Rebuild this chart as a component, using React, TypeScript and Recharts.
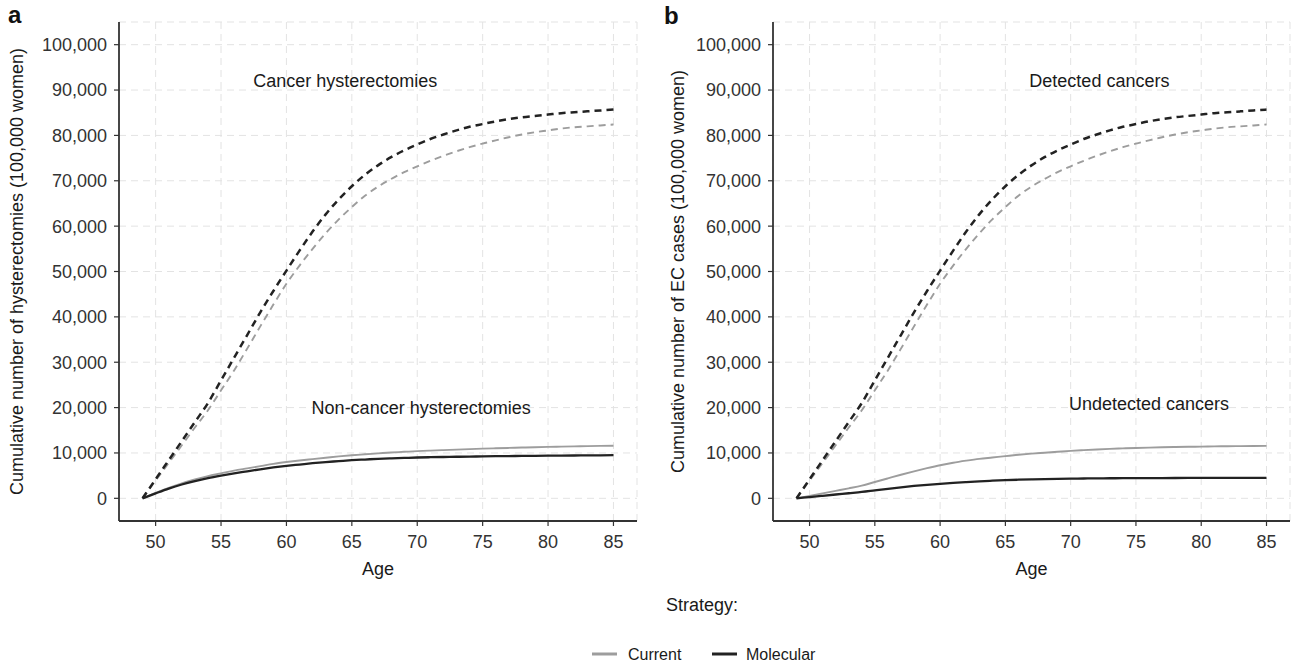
import React from 'react';
import { LineChart, Line, XAxis, YAxis, CartesianGrid, ReferenceDot, Label } from 'recharts';

// ---------- data ----------
const ages = [49, 50, 51, 52, 53, 54, 55, 56, 57, 58, 59, 60, 61, 62, 63, 64, 65, 66, 67, 68, 69, 70, 71, 72, 73, 74, 75, 76, 77, 78, 79, 80, 81, 82, 83, 84, 85];

// Panel a: cumulative hysterectomies
const hystCancerCurrent = [0, 3900, 7800, 11700, 15600, 19400, 23800, 28200, 33000, 37900, 42700, 47300, 51300, 55000, 58400, 61500, 64200, 66700, 68700, 70400, 71900, 73200, 74400, 75500, 76500, 77400, 78200, 78900, 79600, 80200, 80700, 81100, 81500, 81800, 82000, 82200, 82400];
const hystCancerMolecular = [0, 4200, 8400, 12600, 16800, 21000, 26000, 31000, 36000, 41000, 45700, 50200, 54600, 58800, 62600, 65900, 68800, 71300, 73400, 75200, 76700, 78000, 79200, 80200, 81100, 81900, 82500, 83100, 83600, 84000, 84300, 84600, 84900, 85100, 85300, 85500, 85700];
const hystNonCancerCurrent = [0, 1200, 2300, 3300, 4150, 4900, 5500, 6100, 6600, 7100, 7600, 8000, 8350, 8650, 8950, 9250, 9500, 9700, 9900, 10100, 10250, 10400, 10520, 10630, 10740, 10850, 10950, 11030, 11110, 11190, 11260, 11330, 11390, 11450, 11500, 11550, 11600];
const hystNonCancerMolecular = [0, 1100, 2150, 3050, 3800, 4450, 5000, 5500, 5950, 6400, 6800, 7150, 7450, 7750, 8000, 8200, 8400, 8550, 8700, 8800, 8900, 9000, 9060, 9110, 9160, 9200, 9240, 9280, 9310, 9340, 9370, 9400, 9420, 9440, 9460, 9480, 9500];

// Panel b: cumulative EC cases
const ecDetectedCurrent = [0, 3900, 7800, 11700, 15600, 19400, 23800, 28200, 33000, 37900, 42700, 47300, 51300, 55000, 58400, 61500, 64200, 66700, 68700, 70400, 71900, 73200, 74400, 75500, 76500, 77400, 78200, 78900, 79600, 80200, 80700, 81100, 81500, 81800, 82000, 82200, 82400];
const ecDetectedMolecular = [0, 4200, 8400, 12600, 16800, 21000, 26000, 31000, 36000, 41000, 45700, 50200, 54600, 58800, 62600, 65900, 68800, 71300, 73400, 75200, 76700, 78000, 79200, 80200, 81100, 81900, 82500, 83100, 83600, 84000, 84300, 84600, 84900, 85100, 85300, 85500, 85700];
const ecUndetectedCurrent = [0, 550, 1100, 1650, 2200, 2800, 3600, 4400, 5200, 5950, 6650, 7300, 7850, 8300, 8700, 9000, 9300, 9600, 9850, 10050, 10250, 10450, 10620, 10770, 10900, 11000, 11100, 11180, 11250, 11310, 11360, 11400, 11440, 11480, 11510, 11540, 11560];
const ecUndetectedMolecular = [0, 280, 560, 840, 1120, 1400, 1750, 2100, 2420, 2720, 2980, 3200, 3400, 3580, 3740, 3880, 4000, 4100, 4180, 4250, 4300, 4340, 4370, 4400, 4420, 4440, 4450, 4460, 4470, 4480, 4485, 4490, 4495, 4500, 4505, 4510, 4515];

const xTicks = [50, 55, 60, 65, 70, 75, 80, 85];
const yTicks = [0, 10000, 20000, 30000, 40000, 50000, 60000, 70000, 80000, 90000, 100000];
const strategies = ['Current', 'Molecular'];

const panelA = ages.map((age, i) => ({
  age,
  dashCur: hystCancerCurrent[i],
  dashMol: hystCancerMolecular[i],
  solidCur: hystNonCancerCurrent[i],
  solidMol: hystNonCancerMolecular[i],
}));
const panelB = ages.map((age, i) => ({
  age,
  dashCur: ecDetectedCurrent[i],
  dashMol: ecDetectedMolecular[i],
  solidCur: ecUndetectedCurrent[i],
  solidMol: ecUndetectedMolecular[i],
}));

// ---------- styles ----------
const FONT = "'Liberation Sans', Arial, Helvetica, sans-serif";
const GRAY = '#9d9d9d';
const DARK = '#222222';
const AXIS = '#333333';
const strategyColor: Record<string, string> = { Current: GRAY, Molecular: DARK };

const fmt = (v: number) => v.toLocaleString('en-US');

const yTitle = (x: number, text: string) => (props: any) => {
  const vb = props.viewBox || {};
  const cy = vb.height ? vb.y + vb.height / 2 : 271.5;
  return (
    <text
      x={x}
      y={cy}
      transform={`rotate(-90 ${x} ${cy})`}
      textAnchor="middle"
      dy="0.35em"
      fontSize={18}
      fill="#1a1a1a"
    >
      {text}
    </text>
  );
};

type Note = { x: number; y: number; text: string };

function Panel(props: {
  data: any[];
  width: number;
  yAxisWidth: number;
  marginRight: number;
  title: string;
  titleX: number;
  notes: Note[];
}) {
  const { data, width, yAxisWidth, marginRight, title, titleX, notes } = props;
  return (
    <LineChart
      width={width}
      height={580}
      data={data}
      margin={{ top: 22, right: marginRight, left: 0, bottom: 0 }}
    >
      <CartesianGrid stroke="#e3e3e3" strokeDasharray="7 5" strokeWidth={1} />
      <XAxis
        dataKey="age"
        type="number"
        domain={[47.2, 86.8]}
        ticks={xTicks}
        interval={0}
        height={59}
        tickSize={5}
        tickMargin={9}
        tick={{ fontSize: 18, fill: AXIS }}
        axisLine={{ stroke: AXIS, strokeWidth: 1.8 }}
        tickLine={{ stroke: AXIS, strokeWidth: 1.2 }}
        allowDataOverflow
      >
        <Label value="Age" position="insideBottom" offset={5} fontSize={18} fill="#1a1a1a" />
      </XAxis>
      <YAxis
        type="number"
        domain={[-5000, 105000]}
        ticks={yTicks}
        interval={0}
        width={yAxisWidth}
        tickSize={5}
        tickMargin={7}
        tickFormatter={fmt}
        tick={{ fontSize: 18, fill: AXIS }}
        axisLine={{ stroke: AXIS, strokeWidth: 1.8 }}
        tickLine={{ stroke: AXIS, strokeWidth: 1.2 }}
        allowDataOverflow
      >
        <Label content={yTitle(titleX, title)} />
      </YAxis>
      <Line type="monotone" dataKey="dashCur" stroke={GRAY} strokeWidth={1.9} strokeDasharray="7 5" dot={false} isAnimationActive={false} />
      <Line type="monotone" dataKey="solidCur" stroke={GRAY} strokeWidth={1.9} dot={false} isAnimationActive={false} />
      <Line type="monotone" dataKey="dashMol" stroke={DARK} strokeWidth={2.5} strokeDasharray="7 5" dot={false} isAnimationActive={false} />
      <Line type="monotone" dataKey="solidMol" stroke={DARK} strokeWidth={2.3} dot={false} isAnimationActive={false} />
      {notes.map((n) => (
        <ReferenceDot
          key={n.text}
          x={n.x}
          y={n.y}
          r={0}
          fill="none"
          stroke="none"
          label={{ value: n.text, position: 'center', fontSize: 18, fill: '#1a1a1a' }}
        />
      ))}
    </LineChart>
  );
}

const notesA: Note[] = [
  { x: 64.5, y: 92000, text: 'Cancer hysterectomies' },
  { x: 70.3, y: 20000, text: 'Non-cancer hysterectomies' },
];
const notesB: Note[] = [
  { x: 72.2, y: 92000, text: 'Detected cancers' },
  { x: 76.0, y: 20800, text: 'Undetected cancers' },
];

const legendLayout = [
  { lineX: 592, textX: 628 },
  { lineX: 712, textX: 746 },
];

export default function App() {
  return (
    <div
      style={{
        position: 'absolute',
        left: 0,
        top: 0,
        width: 1295,
        height: 666,
        background: '#ffffff',
        fontFamily: FONT,
        overflow: 'hidden',
      }}
    >
      <div style={{ position: 'absolute', left: 0, top: 0 }}>
        <Panel
          data={panelA}
          width={650}
          yAxisWidth={119}
          marginRight={13}
          title="Cumulative number of hysterectomies (100,000 women)"
          titleX={17}
          notes={notesA}
        />
      </div>
      <div style={{ position: 'absolute', left: 650, top: 0 }}>
        <Panel
          data={panelB}
          width={645}
          yAxisWidth={123}
          marginRight={5}
          title="Cumulative number of EC cases (100,000 women)"
          titleX={28}
          notes={notesB}
        />
      </div>
      <svg
        width={1295}
        height={666}
        style={{ position: 'absolute', left: 0, top: 0, pointerEvents: 'none' }}
      >
        <text x={8} y={23} fontSize={24} fontWeight="bold" fill="#111">a</text>
        <text x={664} y={24} fontSize={24} fontWeight="bold" fill="#111">b</text>
        <text x={666} y={611} fontSize={18} fill="#1a1a1a">Strategy:</text>
        {strategies.map((s, i) => (
          <g key={s}>
            <line
              x1={legendLayout[i].lineX}
              x2={legendLayout[i].lineX + 25}
              y1={654}
              y2={654}
              stroke={strategyColor[s]}
              strokeWidth={3}
            />
            <text x={legendLayout[i].textX} y={654} dy="0.35em" fontSize={16} fill="#1a1a1a">
              {s}
            </text>
          </g>
        ))}
      </svg>
    </div>
  );
}
